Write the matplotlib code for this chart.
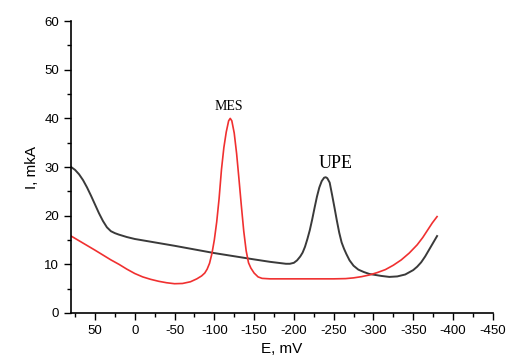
import matplotlib
matplotlib.use("Agg")
import matplotlib.pyplot as plt
from matplotlib.ticker import MultipleLocator

plt.rcParams["axes.unicode_minus"] = False

# UPE curve (dark)
upe_E = [80, 75, 70, 65, 60, 55, 50, 45, 40, 35, 30, 25, 20, 10, 0,
         -50, -100, -150, -170, -180, -190, -195, -200, -204, -208, -211, -214,
         -217, -220, -223, -226, -229, -232, -235, -238, -240, -242, -245, -248,
         -251, -254, -257, -260, -263, -266, -270, -275, -281, -288, -295, -310,
         -320, -330, -340, -350, -355, -360, -365, -370, -375, -380]
upe_I = [30, 29.4, 28.5, 27.3, 25.8, 24.1, 22.3, 20.5, 18.9, 17.6, 16.8, 16.4, 16.1, 15.6, 15.2,
         13.8, 12.3, 11.0, 10.5, 10.3, 10.1, 10.1, 10.3, 10.8, 11.6, 12.4, 13.6,
         15.2, 17.0, 19.2, 21.6, 23.9, 25.8, 27.1, 27.8, 27.9, 27.7, 26.8, 24.3,
         21.7, 19.0, 16.5, 14.5, 13.2, 12.1, 10.8, 9.7, 8.9, 8.4, 8.0, 7.6,
         7.4, 7.5, 7.9, 8.8, 9.5, 10.4, 11.6, 13.0, 14.4, 15.8]

# MES curve (red)
mes_E = [80, 50, 30, 20, 10, 0, -10, -20, -30, -40, -50, -60, -70, -78, -84,
         -88, -91, -94, -97, -100, -103, -106, -109, -112, -115, -118, -120,
         -122, -125, -128, -131, -134, -137, -140, -143, -146, -150, -155, -160,
         -170, -200, -250, -265, -275, -285, -295, -305, -315, -325, -335, -345,
         -355, -362, -368, -374, -380]
mes_I = [15.8, 12.9, 10.9, 10.0, 9.0, 8.1, 7.4, 6.9, 6.5, 6.2, 6.0, 6.05, 6.4, 7.0, 7.6,
         8.2, 9.0, 10.2, 12.2, 15.0, 18.7, 23.5, 29.5, 34.0, 37.2, 39.5, 40.0,
         39.5, 37.0, 32.8, 27.5, 22.0, 16.8, 12.8, 10.3, 9.2, 8.2, 7.4, 7.1,
         7.0, 7.0, 7.0, 7.05, 7.2, 7.45, 7.8, 8.3, 8.9, 9.8, 10.9, 12.3,
         14.0, 15.5, 17.0, 18.5, 19.8]

xticks = [50, 0, -50, -100, -150, -200, -250, -300, -350, -400, -450]

fig = plt.figure(figsize=(5.08, 3.58), dpi=100)
ax = fig.add_axes([0.140, 0.126, 0.830, 0.815])

ax.plot(upe_E, upe_I, color="#3a3a3a", lw=1.4, solid_joinstyle="round")
ax.plot(mes_E, mes_I, color="#f03030", lw=1.2, solid_joinstyle="round")

ax.text(-118, 41.2, "MES", family="Liberation Serif", fontsize=10, ha="center", va="bottom")
ax.text(-252, 29.0, "UPE", family="Liberation Serif", fontsize=13, ha="center", va="bottom")

ax.set_xlim(80, -450)
ax.set_ylim(0, 60)
ax.set_xticks(xticks)
ax.xaxis.set_minor_locator(MultipleLocator(25))
ax.yaxis.set_major_locator(MultipleLocator(10))
ax.yaxis.set_minor_locator(MultipleLocator(5))

for s in ["top", "right"]:
    ax.spines[s].set_visible(False)
for s in ["left", "bottom"]:
    ax.spines[s].set_linewidth(1.2)

ax.tick_params(which="major", direction="out", length=5, width=1, labelsize=9.5)
ax.tick_params(which="minor", direction="out", length=3, width=1)
for lab in ax.get_xticklabels() + ax.get_yticklabels():
    lab.set_family("Liberation Sans")

ax.set_xlabel("E, mV", family="Liberation Sans", fontsize=11)
ax.set_ylabel("I, mkA", family="Liberation Sans", fontsize=11)

fig.savefig("out.png", dpi=100)
